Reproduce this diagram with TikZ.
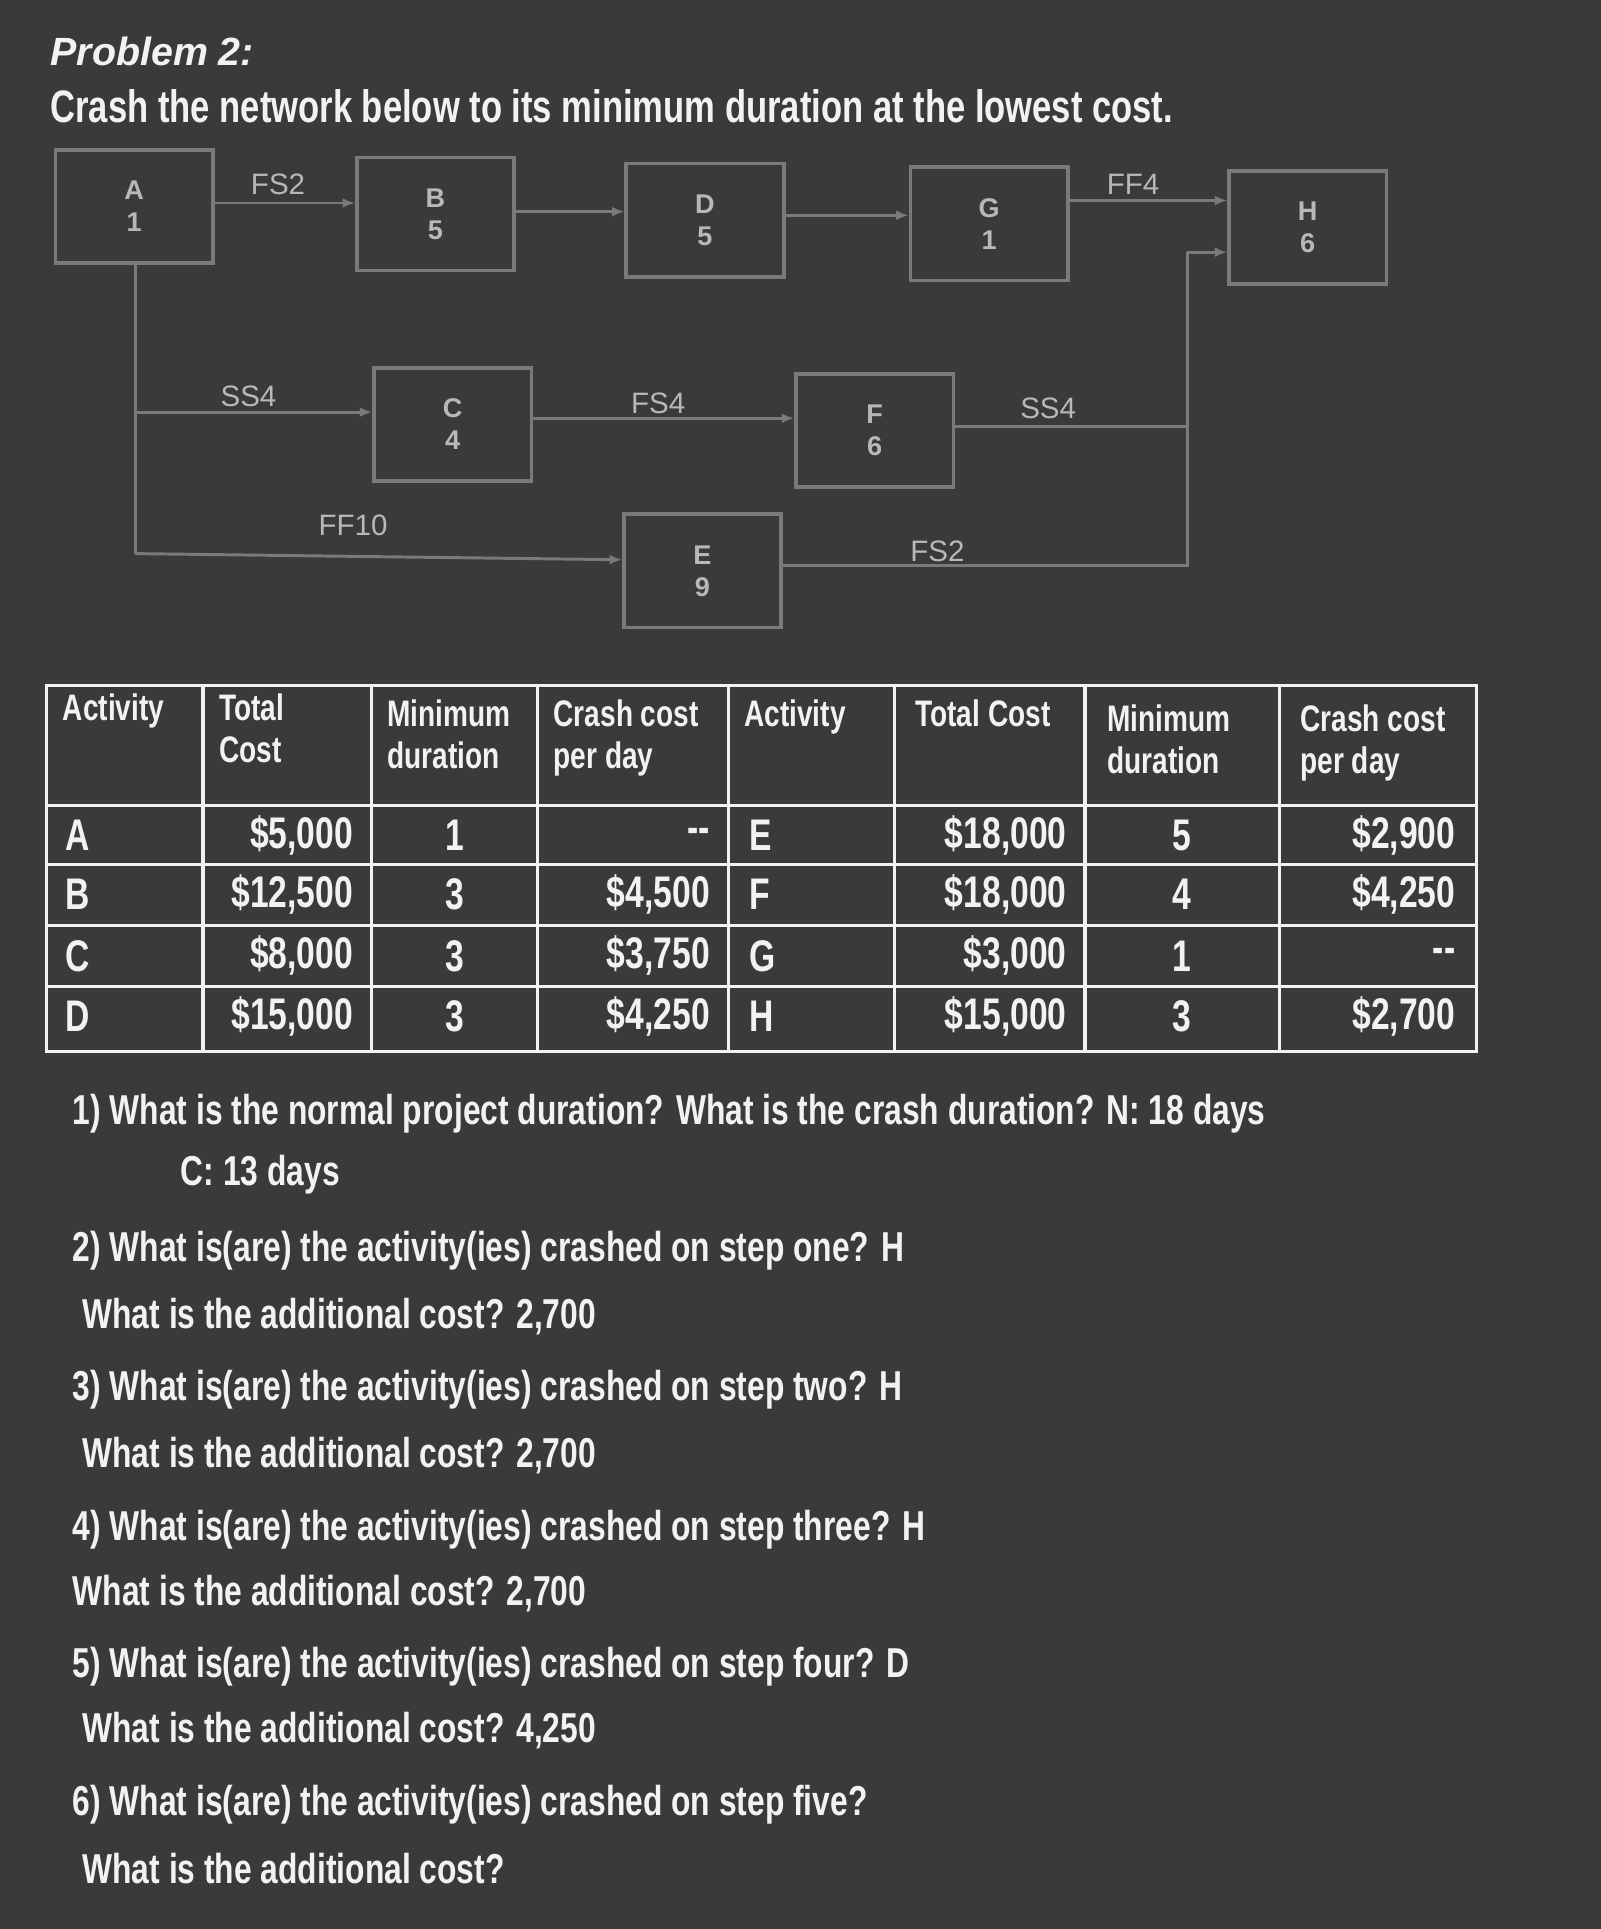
\documentclass[tikz,border=0pt]{standalone}
\usepackage{fontspec}
\setmainfont{Liberation Sans}
\newfontfamily\cond[FakeStretch=0.76]{Liberation Sans}
\usetikzlibrary{arrows.meta}
\definecolor{bg}{HTML}{3A3A3A}
\definecolor{ln}{HTML}{7A7A7A}
\definecolor{tx}{HTML}{F2F2F2}
\definecolor{lt}{HTML}{B8B8B8}
\tikzset{
 act/.style={draw=ln,line width=1.5pt,minimum width=64pt,minimum height=46pt,align=center,text=lt,font=\bfseries\fontsize{11}{13}\selectfont},
 con/.style={draw=ln,line width=1.2pt},
 arr/.style={con,-{Latex[length=5pt,width=4pt]}},
 lab/.style={text=lt,font=\fontsize{12}{14}\selectfont},
 qt/.style={text=tx,anchor=west,font=\cond\bfseries\fontsize{17}{20}\selectfont},
 cell/.style={text=tx,font=\cond\bfseries\fontsize{18}{20}\selectfont},
 hd/.style={text=tx,anchor=north west,align=left,font=\cond\bfseries\fontsize{15}{17}\selectfont}
}
\newcommand\tabrow[9]{%
 \node[cell,anchor=west] at (46,#1) {#2};
 \node[cell,anchor=east] at (294,#1) {#3};
 \node[cell] at (370,#1) {#4};
 \node[cell,anchor=east] at (584,#1) {#5};
 \node[cell,anchor=west] at (602,#1) {#6};
 \node[cell,anchor=east] at (874,#1) {#7};
 \node[cell] at (961,#1) {#8};
 \node[cell,anchor=east] at (1190,#1) {#9};}
\begin{document}
\begin{tikzpicture}[x=0.5pt,y=-0.5pt]
\fill[bg] (0,0) rectangle (1301,1568);
\useasboundingbox (0,0) rectangle (1301,1568);
\node[qt,font=\bfseries\itshape\fontsize{16}{18}\selectfont] (t1) at (34,42) {Problem 2:};
\node[qt,font=\cond\bfseries\fontsize{18.5}{20}\selectfont] (t2) at (34,86) {Crash the network below to its minimum duration at the lowest cost.};
% activities
\node[act] (A) at (109,168) {A\\1};
\node[act] (B) at (354,174) {B\\5};
\node[act] (D) at (573,179) {D\\5};
\node[act] (G) at (804,182) {G\\1};
\node[act] (H) at (1063,185) {H\\6};
\node[act] (C) at (368,345) {C\\4};
\node[act] (F) at (711,350) {F\\6};
\node[act] (E) at (571,464) {E\\9};
\coordinate (a1) at (110,215);
\coordinate (a2) at (110,335);
\coordinate (a3) at (110,450);
\coordinate (j1) at (965,347);
\coordinate (j2) at (965,460);
\coordinate (j3) at (965,205);
\draw[arr] (A.east |- 0,165) -- (B.west |- 0,165);
\draw[arr] (B.east |- 0,172) -- (D.west |- 0,172);
\draw[arr] (D.east |- 0,175) -- (G.west |- 0,175);
\draw[arr] (G.east |- 0,163) -- (H.west |- 0,163);
\draw[con] (a1) -- (a3);
\draw[arr] (a2) -- (C.west |- a2);
\draw[arr] (a3) -- (E.west |- 0,455);
\draw[arr] (C.east |- 0,340) -- (F.west |- 0,340);
\draw[con] (F.east |- j1) -- (j1);
\draw[con] (E.east |- j2) -- (j2) -- (j3);
\draw[arr] (j3) -- (H.west |- j3);
\node[lab] (l1) at (226,150) {FS2};
\node[lab] (l2) at (921,150) {FF4};
\node[lab] (l3) at (202,322) {SS4};
\node[lab] (l4) at (535,328) {FS4};
\node[lab] (l5) at (852,332) {SS4};
\node[lab] (l6) at (287,427) {FF10};
\node[lab] (l7) at (762,448) {FS2};
% table
\draw[draw=tx,line width=1.3pt] (38,557) rectangle (1200,855);
\foreach \x in {165,302,437,592,727,882,1040} \draw[tx,line width=1.3pt] (\x,557) -- (\x,855);
\foreach \y in {655,703,752,802} \draw[tx,line width=1.3pt] (38,\y) -- (1200,\y);
\node[hd] (h1) at (44,557) {Activity};
\node[hd] (h2) at (171,557) {Total\\Cost};
\node[hd] (h3) at (308,562) {Minimum\\duration};
\node[hd] (h4) at (443,562) {Crash cost\\per day};
\node[hd] (h5) at (598,562) {Activity};
\node[hd] (h6) at (737,562) {Total Cost};
\node[hd] (h7) at (893,566) {Minimum\\duration};
\node[hd] (h8) at (1050,566) {Crash cost\\per day};
\tabrow{679}{A}{\$5,000}{1}{--}{E}{\$18,000}{5}{\$2,900}
\tabrow{727}{B}{\$12,500}{3}{\$4,500}{F}{\$18,000}{4}{\$4,250}
\tabrow{777}{C}{\$8,000}{3}{\$3,750}{G}{\$3,000}{1}{--}
\tabrow{826}{D}{\$15,000}{3}{\$4,250}{H}{\$15,000}{3}{\$2,700}
% questions
\node[qt] (q1) at (52,905) {1) What is the normal project duration? What is the crash duration? N: 18 days};
\node[qt] (q1b) at (140,955) {C: 13 days};
\node[qt] (q2) at (52,1017) {2) What is(are) the activity(ies) crashed on step one? H};
\node[qt] (q2b) at (60,1070) {What is the additional cost? 2,700};
\node[qt] (q3) at (52,1130) {3) What is(are) the activity(ies) crashed on step two? H};
\node[qt] (q3b) at (60,1183) {What is the additional cost? 2,700};
\node[qt] (q4) at (52,1243) {4) What is(are) the activity(ies) crashed on step three? H};
\node[qt] (q4b) at (52,1295) {What is the additional cost? 2,700};
\node[qt] (q5) at (52,1355) {5) What is(are) the activity(ies) crashed on step four? D};
\node[qt] (q5b) at (60,1407) {What is the additional cost? 4,250};
\node[qt] (q6) at (52,1467) {6) What is(are) the activity(ies) crashed on step five?};
\node[qt] (q6b) at (60,1519) {What is the additional cost?};
\end{tikzpicture}
\end{document}
